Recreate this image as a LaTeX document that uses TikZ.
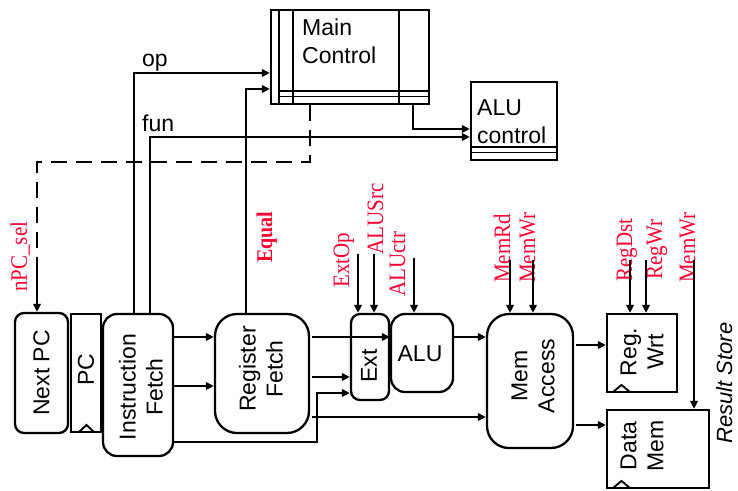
\documentclass[tikz,border=0pt]{standalone}
\usepackage{fontspec}
\setmainfont{Liberation Sans}
\newfontfamily\sigfont{Liberation Serif}
\usetikzlibrary{arrows.meta}
\definecolor{sigred}{RGB}{255,0,51}
\newcommand{\sigtxt}[1]{\scalebox{1}[1.12]{#1}}
\begin{document}
\begin{tikzpicture}[x=1pt,y=-1pt,
  box/.style={draw, line width=2.3pt, inner sep=0pt},
  rbox/.style={box, rounded corners=#1},
  rbox/.default=10pt,
  lbl/.style={font=\fontsize{23}{27}\selectfont, inner sep=0pt, align=center},
  rlbl/.style={lbl, rotate=90},
  sig/.style={rotate=90, anchor=base west, text=sigred, font=\sigfont\fontsize{21}{24}\selectfont, inner sep=0pt},
  wire/.style={line width=1.9pt},
  arr/.style={wire, -{Triangle[length=8pt,width=7.5pt]}},
  dashwire/.style={wire, dash pattern=on 16pt off 9pt},
  deco/.style={line width=1.9pt},
]
\useasboundingbox (0,0) rectangle (738,490);

% ---------- boxes ----------
\node[rbox=9pt, minimum width=53pt, minimum height=120pt] (nextpc) at (41.5,373) {};
\node[box, minimum width=30pt, minimum height=118pt] (pc) at (86,373) {};
\node[rbox=14pt, minimum width=70pt, minimum height=142pt] (ifetch) at (138,385) {};
\node[rbox=22pt, minimum width=94pt, minimum height=119pt] (rfetch) at (262,373.5) {};
\node[rbox=9pt, minimum width=38pt, minimum height=86pt] (ext) at (370,357) {};
\node[rbox=14pt, minimum width=62pt, minimum height=78pt] (alu) at (422,353) {};
\node[rbox=22pt, minimum width=86pt, minimum height=134pt] (mem) at (530,381) {};
\node[box, minimum width=70pt, minimum height=78pt] (regwrt) at (642,353) {};
\node[box, minimum width=102pt, minimum height=78pt] (datamem) at (658,449) {};
\node[box, minimum width=158pt, minimum height=94pt] (mainctl) at (350,57) {};
\node[box, minimum width=86pt, minimum height=78pt] (aluctl) at (514,121) {};

% decorations of the control boxes
\draw[deco] (279,10) -- (279,104);
\draw[deco] (293,10) -- (293,104);
\draw[deco] (399,10) -- (399,104);
\draw[deco] (279,91) -- (429,91);
\draw[deco] (279,96.5) -- (429,96.5);
\draw[deco] (471,147) -- (557,147);
\draw[deco] (471,152.5) -- (557,152.5);

% clock marks
\draw[deco] (79,432) -- (86.5,425) -- (94,432);
\draw[deco] (613,392) -- (621.5,385) -- (630,392);
\draw[deco] (613,488) -- (621.5,481) -- (630,488);

% ---------- texts ----------
\node[rlbl] (tnext) at (nextpc.center) {Next PC};
\node[rlbl] (tpc) at (86,370) {PC};
\node[rlbl] (tif) at (141,387) {Instruction\\Fetch};
\node[rlbl] (trf) at (261,369) {Register\\Fetch};
\node[rlbl] (text) at (369,366) {Ext};
\node[lbl] (talu) at (420,354) {ALU};
\node[rlbl] (tmem) at (533,376) {Mem\\Access};
\node[rlbl] (treg) at (642,352) {Reg.\\Wrt};
\node[rlbl] (tdm) at (642,446) {Data\\Mem};
\node[lbl, anchor=base west] (tmain1) at (302,35) {Main};
\node[lbl, anchor=base west] (tmain2) at (302,63) {Control};
\node[lbl, anchor=base west] (talc1) at (477,115) {ALU};
\node[lbl, anchor=base west] (talc2) at (477,143) {control};
\node[lbl, anchor=base west] (top) at (142,66) {op};
\node[lbl, anchor=base west] (tfun) at (142,131) {fun};
\node[lbl, rotate=90, anchor=base, font=\fontsize{22}{27}\selectfont\itshape] (tres) at (732,383) {Result Store};

% ---------- control signal labels ----------
\node[sig] (snpc) at (27,292) {\sigtxt{nPC\_sel}};
\node[sig, font=\sigfont\bfseries\fontsize{20}{24}\selectfont] (seq) at (272,263) {\sigtxt{Equal}};
\node[sig] (sextop) at (349,288) {\sigtxt{ExtOp}};
\node[sig] (salusrc) at (383,255) {\sigtxt{ALUSrc}};
\node[sig] (saluctr) at (405,297) {\sigtxt{ALUctr}};
\node[sig] (smemrd) at (510,283) {\sigtxt{MemRd}};
\node[sig] (smemwr) at (535,283) {\sigtxt{MemWr}};
\node[sig] (sregdst) at (632,282) {\sigtxt{RegDst}};
\node[sig] (sregwr) at (662,280) {\sigtxt{RegWr}};
\node[sig] (smemwr2) at (695,283) {\sigtxt{MemWr}};

% ---------- control connectors ----------
\coordinate (cextop) at (358,254);
\coordinate (calusrc) at (374,254);
\coordinate (caluctr) at (414,258);
\coordinate (cmemrd) at (510,260);
\coordinate (cmemwr) at (533,260);
\coordinate (cregdst) at (630,260);
\coordinate (cregwr) at (646,260);
\coordinate (cmemwr2) at (694,260);
\draw[arr] (cextop) -- (cextop |- ext.north);
\draw[arr] (calusrc) -- (calusrc |- ext.north);
\draw[arr] (caluctr) -- (caluctr |- alu.north);
\draw[arr] (cmemrd) -- (cmemrd |- mem.north);
\draw[arr] (cmemwr) -- (cmemwr |- mem.north);
\draw[arr] (cregdst) -- (cregdst |- regwrt.north);
\draw[arr] (cregwr) -- (cregwr |- regwrt.north);
\draw[arr] (cmemwr2) -- (cmemwr2 |- datamem.north);

% ---------- datapath connectors ----------
\draw[arr] (134,0 |- ifetch.north) |- (mainctl.west |- 0,73);
\draw[arr] (150,0 |- ifetch.north) |- (aluctl.west |- 0,137);
\draw[arr] (246,0 |- rfetch.north) |- (mainctl.west |- 0,89);
\draw[arr] (413,0 |- mainctl.south) |- (aluctl.west |- 0,129);
\coordinate (dbreak) at (37,252);
\coordinate (dsolid) at (37,257);
\draw[dashwire] (310,0 |- mainctl.south) -- (310,162) -- (37,162) -- (dbreak);
\draw[arr] (dsolid) -- (dsolid |- nextpc.north);

\draw[arr] (ifetch.east |- 0,337) -- (rfetch.west |- 0,337);
\draw[arr] (ifetch.east |- 0,386) -- (rfetch.west |- 0,386);
\draw[arr] (ifetch.east |- 0,442) -| (317,393) -- (ext.west |- 0,393);
\draw[arr] ([xshift=2pt]rfetch.east |- 0,337) -- (alu.west |- 0,337);
\draw[arr] ([xshift=2pt]rfetch.east |- 0,377) -- (ext.west |- 0,377);
\draw[arr] ([xshift=2pt]rfetch.east |- 0,417) -- (mem.west |- 0,417);
\draw[arr] (alu.east |- 0,337) -- (mem.west |- 0,337);
\draw[arr] ([xshift=2pt]mem.east |- 0,345) -- (regwrt.west |- 0,345);
\draw[arr] ([xshift=2pt]mem.east |- 0,425) -- (datamem.west |- 0,425);
\end{tikzpicture}
\end{document}
